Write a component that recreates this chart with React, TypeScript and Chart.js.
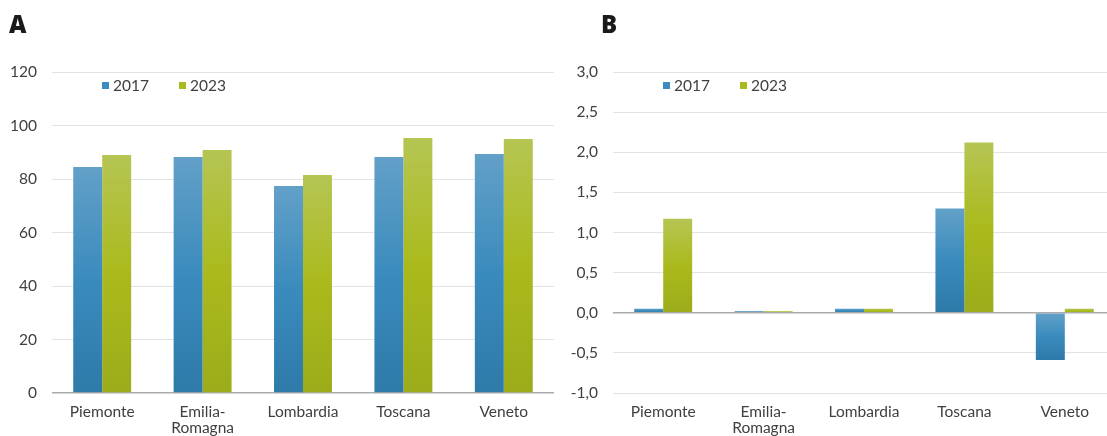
import React, { useEffect, useRef } from "react";
import { Chart, registerables } from "chart.js";

Chart.register(...registerables);

const categories: (string | string[])[] = ["Piemonte", ["Emilia-", "Romagna"], "Lombardia", "Toscana", "Veneto"];
const seriesNames = ["2017", "2023"];

const panelA2017 = [84.5, 88.2, 77.4, 88.2, 89.3];
const panelA2023 = [89.0, 90.8, 81.5, 95.3, 95.0];

const panelB2017 = [0.05, 0.02, 0.05, 1.3, -0.59];
const panelB2023 = [1.17, 0.02, 0.05, 2.12, 0.05];

const FONT = "Lato, 'Noto Sans', sans-serif";
const TEXT = "#404040";

const blueStops = ["#62a0c8", "#3a8bbd", "#2e7aa9"];
const greenStops = ["#b6c553", "#aaba1c", "#9cac1a"];
const legendColors = ["#3d8cbf", "#a9ba1f"];

function gradientFill(stops: string[]) {
  return (ctx: any) => {
    const chart = ctx.chart;
    const y = chart.scales?.y;
    if (!y || ctx.raw === undefined) return stops[1];
    const p1 = y.getPixelForValue(ctx.raw);
    const p0 = y.getPixelForValue(0);
    let top = Math.min(p1, p0);
    let bottom = Math.max(p1, p0);
    if (!isFinite(top) || !isFinite(bottom)) return stops[1];
    if (bottom - top < 1) bottom = top + 1;
    const g = chart.ctx.createLinearGradient(0, top, 0, bottom);
    g.addColorStop(0, stops[0]);
    g.addColorStop(0.5, stops[1]);
    g.addColorStop(1, stops[2]);
    return g;
  };
}

const legendPlugin = {
  id: "customLegend",
  afterDraw(chart: any) {
    const { ctx, chartArea } = chart;
    ctx.save();
    ctx.font = `15.5px ${FONT}`;
    ctx.textBaseline = "middle";
    ctx.fillStyle = TEXT;
    const cy = 85.5;
    const offsets = [50, 127];
    seriesNames.forEach((name, i) => {
      const x = chartArea.left + offsets[i];
      ctx.fillStyle = legendColors[i];
      ctx.fillRect(x, cy - 3.5, 7, 7);
      ctx.fillStyle = TEXT;
      ctx.fillText(name, x + 11, cy);
    });
    ctx.restore();
  },
};

function BarPanel(props: {
  a: number[];
  b: number[];
  min: number;
  max: number;
  step: number;
  fmt: (v: number) => string;
  yWidth: number;
  width: number;
}) {
  const ref = useRef<HTMLCanvasElement | null>(null);
  useEffect(() => {
    if (!ref.current) return;
    const chart = new Chart(ref.current, {
      type: "bar",
      data: {
        labels: categories,
        datasets: [
          {
            label: seriesNames[0],
            data: props.a,
            backgroundColor: gradientFill(blueStops),
            borderWidth: 0,
          },
          {
            label: seriesNames[1],
            data: props.b,
            backgroundColor: gradientFill(greenStops),
            borderWidth: 0,
          },
        ],
      },
      options: {
        responsive: false,
        animation: false,
        devicePixelRatio: 1,
        layout: { padding: { top: 72, right: 6, bottom: 0, left: 0 } },
        datasets: { bar: { categoryPercentage: 0.577, barPercentage: 1 } },
        plugins: { legend: { display: false }, tooltip: { enabled: false } },
        scales: {
          x: {
            grid: { display: false, drawTicks: false },
            border: { display: false },
            ticks: {
              color: TEXT,
              font: { family: FONT, size: 15.5, lineHeight: 1.03 },
              padding: 11,
              maxRotation: 0,
              autoSkip: false,
            },
            afterFit: (s: any) => {
              s.height = 43;
            },
          },
          y: {
            min: props.min,
            max: props.max,
            grid: {
              color: (c: any) => (c.tick && Math.abs(c.tick.value) < 1e-9 ? "#ababab" : "#e3e3e3"),
              lineWidth: (c: any) => (c.tick && Math.abs(c.tick.value) < 1e-9 ? 1.5 : 1),
              drawTicks: false,
              tickLength: 0,
            },
            border: { display: false },
            ticks: {
              stepSize: props.step,
              color: TEXT,
              font: { family: FONT, size: 15.5 },
              padding: 15,
              callback: (v: any) => props.fmt(Number(v)),
            },
            afterFit: (s: any) => {
              s.width = props.yWidth;
            },
          },
        },
      },
      plugins: [legendPlugin],
    });
    return () => chart.destroy();
  }, []);
  return <canvas ref={ref} width={props.width} height={436} style={{ display: "block" }} />;
}

export default function App() {
  useEffect(() => {
    document.body.style.margin = "0";
  }, []);
  const titleStyle: React.CSSProperties = {
    position: "absolute",
    top: 9,
    fontFamily: "'Open Sans', 'Liberation Sans', Arial, sans-serif",
    fontWeight: 800,
    fontSize: 24,
    color: "#1a1a1a",
    lineHeight: "30px",
  };
  return (
    <div style={{ position: "fixed", left: 0, top: 0, width: 1107, height: 436, overflow: "hidden", background: "#fff" }}>
      <div style={{ position: "absolute", left: 0, top: 0 }}>
        <BarPanel a={panelA2017} b={panelA2023} min={0} max={120} step={20} fmt={(v) => String(Math.round(v))} yWidth={52} width={560} />
      </div>
      <div style={{ position: "absolute", left: 560, top: 0 }}>
        <BarPanel
          a={panelB2017}
          b={panelB2023}
          min={-1}
          max={3}
          step={0.5}
          fmt={(v) => v.toFixed(1).replace(".", ",")}
          yWidth={53}
          width={561}
        />
      </div>
      <div style={{ ...titleStyle, left: 9 }}>A</div>
      <div style={{ ...titleStyle, left: 601 }}>B</div>
    </div>
  );
}
